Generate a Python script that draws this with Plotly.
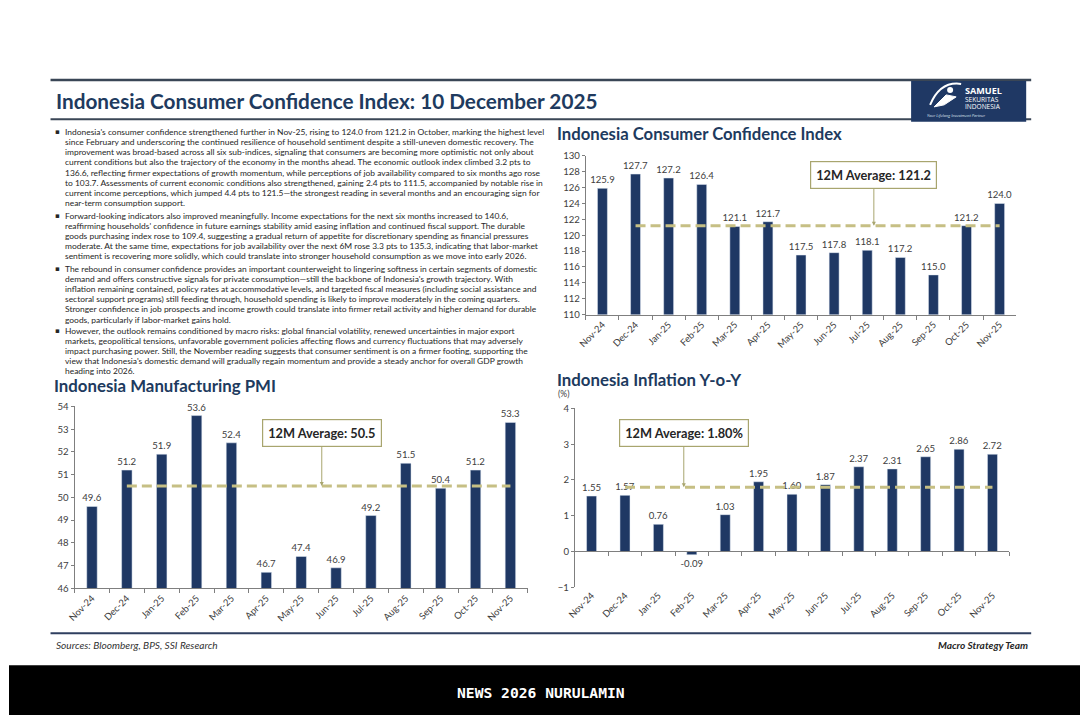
import plotly.graph_objects as go

W, H = 1080, 720

months = ["Nov-24", "Dec-24", "Jan-25", "Feb-25", "Mar-25", "Apr-25", "May-25",
          "Jun-25", "Jul-25", "Aug-25", "Sep-25", "Oct-25", "Nov-25"]
cci = [125.9, 127.7, 127.2, 126.4, 121.1, 121.7, 117.5, 117.8, 118.1, 117.2, 115.0, 121.2, 124.0]
pmi = [49.6, 51.2, 51.9, 53.6, 52.4, 46.7, 47.4, 46.9, 49.2, 51.5, 50.4, 51.2, 53.3]
infl = [1.55, 1.57, 0.76, -0.09, 1.03, 1.95, 1.60, 1.87, 2.37, 2.31, 2.65, 2.86, 2.72]
cci_avg = 121.2
pmi_avg = 50.5
infl_avg = 1.80
avg_months = months[1:]

NAVY = "#1F3864"
TITLE = "#203A5E"
AVG = "#C6BF84"
BOXLINE = "#A8A56E"
GRAY = "#7F7F7F"
LBL = "#404040"
FONT = "Lato"

# calibration of the capture (observed page -> picture mapping)
SX, BX = 0.991, 8.5
SY, BY = 0.986, 5.0
FS = 1 / 0.988


def px(x):
    return ((x - BX) / SX) / W


def py(y):
    return 1 - ((y - BY) / SY) / H


def f(s):
    return s * FS


fig = go.Figure()

charts = [
    ("x", "y", cci, [f"{v:.1f}" for v in cci], cci_avg, "x"),
    ("x2", "y2", pmi, [f"{v:.1f}" for v in pmi], pmi_avg, "x2"),
    ("x3", "y3", infl, [f"{v:.2f}" for v in infl], infl_avg, "x4"),
]
for xa, ya, vals, labels, avg, xavg in charts:
    fig.add_trace(go.Bar(
        x=months, y=vals, xaxis=xa, yaxis=ya, marker_color=NAVY, width=0.3,
        text=labels, textposition="outside", constraintext="none", cliponaxis=False,
        textfont=dict(family=FONT, size=f(9.5), color=LBL), hoverinfo="skip"))
    fig.add_trace(go.Scatter(
        x=avg_months, y=[avg] * len(avg_months), xaxis=xavg, yaxis=ya, mode="lines",
        line=dict(color=AVG, width=3, dash="10px,5px"), hoverinfo="skip"))

xcommon = dict(type="category", showline=True, linecolor=GRAY, linewidth=1,
               ticks="outside", tickson="boundaries", ticklen=4, tickcolor=GRAY,
               tickangle=-45, tickfont=dict(family=FONT, size=f(9.3), color=LBL),
               showgrid=False, zeroline=False, fixedrange=True)
ycommon = dict(showline=True, linecolor=GRAY, linewidth=1, ticks="outside",
               ticklen=3, tickcolor=GRAY, tickfont=dict(family=FONT, size=f(9.5), color=LBL),
               showgrid=False, fixedrange=True, zeroline=False)

# inflation zero line position (reference pixels)
inf_top, inf_bot = 408, 587
zero_px = inf_top + (4 - 0) / 5 * (inf_bot - inf_top)

fig.update_layout(
    xaxis=dict(xcommon, domain=[px(585), px(1015)], anchor="y"),
    yaxis=dict(ycommon, domain=[py(314), py(155)], range=[110, 130], dtick=2, anchor="x"),
    xaxis2=dict(xcommon, domain=[px(74), px(527)], anchor="y2"),
    yaxis2=dict(ycommon, domain=[py(588), py(406)], range=[46, 54], dtick=1, anchor="x2"),
    xaxis3=dict(xcommon, domain=[px(574), px(1008)], anchor="y3", showline=False, ticks=""),
    yaxis3=dict(ycommon, domain=[py(inf_bot), py(inf_top)], range=[-1, 4], dtick=1, anchor="x3"),
    xaxis4=dict(xcommon, matches="x3", overlaying="x3", anchor="free",
                position=py(zero_px), showticklabels=False, domain=[px(574), px(1008)]),
)

ann = []

# average boxes
for xr, yr, xpos, avg, txt, ay in [
    ("x", "y", 8.2, cci_avg, "12M Average: 121.2", -50),
    ("x2", "y2", 6.59, pmi_avg, "12M Average: 50.5", -52),
    ("x3", "y3", 2.76, infl_avg, "12M Average: 1.80%", -53),
]:
    ann.append(dict(xref=xr, yref=yr, x=xpos, y=avg, ax=0, ay=ay / SY,
                    text=f"<b>{txt}</b>", showarrow=True, arrowhead=2, arrowsize=0.8,
                    arrowwidth=1, arrowcolor=BOXLINE, bgcolor="#FFFFFF",
                    bordercolor=BOXLINE, borderwidth=1.2, borderpad=5,
                    font=dict(family=FONT, size=f(12.6), color="#262626")))

# header
ann.append(dict(xref="paper", yref="paper", x=px(53), y=py(100), xanchor="left",
                yanchor="middle", showarrow=False,
                text="<b>Indonesia Consumer Confidence Index: 10 December 2025</b>",
                font=dict(family=FONT, size=f(20.5), color=TITLE)))

# chart titles
for x0, y0, t, s in [(555, 133, "Indonesia Consumer Confidence Index", 16.5),
                     (52, 385, "Indonesia Manufacturing PMI", 16.6),
                     (555, 379, "Indonesia Inflation Y-o-Y", 16.6)]:
    ann.append(dict(xref="paper", yref="paper", x=px(x0), y=py(y0), xanchor="left",
                    yanchor="middle", showarrow=False, text=f"<b>{t}</b>", borderpad=0,
                    font=dict(family=FONT, size=f(s), color=TITLE)))
ann.append(dict(xref="paper", yref="paper", x=px(555), y=py(394), xanchor="left",
                yanchor="middle", showarrow=False, text="(%)",
                font=dict(family=FONT, size=f(8.5), color=LBL)))

# body text
paras = [
    (131, [
        "Indonesia's consumer confidence strengthened further in Nov-25, rising to 124.0 from 121.2 in October, marking the highest level",
        "since February and underscoring the continued resilience of household sentiment despite a still-uneven domestic recovery. The",
        "improvement was broad-based across all six sub-indices, signaling that consumers are becoming more optimistic not only about",
        "current conditions but also the trajectory of the economy in the months ahead. The economic outlook index climbed 3.2 pts to",
        "136.6, reflecting firmer expectations of growth momentum, while perceptions of job availability compared to six months ago rose",
        "to 103.7. Assessments of current economic conditions also strengthened, gaining 2.4 pts to 111.5, accompanied by notable rise in",
        "current income perceptions, which jumped 4.4 pts to 121.5\u2014the strongest reading in several months and an encouraging sign for",
        "near-term consumption support.",
    ]),
    (215, [
        "Forward-looking indicators also improved meaningfully. Income expectations for the next six months increased to 140.6,",
        "reaffirming households' confidence in future earnings stability amid easing inflation and continued fiscal support. The durable",
        "goods purchasing index rose to 109.4, suggesting a gradual return of appetite for discretionary spending as financial pressures",
        "moderate. At the same time, expectations for job availability over the next 6M rose 3.3 pts to 135.3, indicating that labor-market",
        "sentiment is recovering more solidly, which could translate into stronger household consumption as we move into early 2026.",
    ]),
    (268, [
        "The rebound in consumer confidence provides an important counterweight to lingering softness in certain segments of domestic",
        "demand and offers constructive signals for private consumption\u2014still the backbone of Indonesia's growth trajectory. With",
        "inflation remaining contained, policy rates at accommodative levels, and targeted fiscal measures (including social assistance and",
        "sectoral support programs) still feeding through, household spending is likely to improve moderately in the coming quarters.",
        "Stronger confidence in job prospects and income growth could translate into firmer retail activity and higher demand for durable",
        "goods, particularly if labor-market gains hold.",
    ]),
    (330, [
        "However, the outlook remains conditioned by macro risks: global financial volatility, renewed uncertainties in major export",
        "markets, geopolitical tensions, unfavorable government policies affecting flows and currency fluctuations that may adversely",
        "impact purchasing power. Still, the November reading suggests that consumer sentiment is on a firmer footing, supporting the",
        "view that Indonesia's domestic demand will gradually regain momentum and provide a steady anchor for overall GDP growth",
        "heading into 2026.",
    ]),
]
for y0, lines in paras:
    ann.append(dict(xref="paper", yref="paper", x=px(53), y=py(y0), xanchor="left",
                    yanchor="middle", showarrow=False, text="\u25aa", borderpad=0,
                    font=dict(family="DejaVu Sans", size=f(7), color="#262626")))
    for i, line in enumerate(lines):
        ann.append(dict(xref="paper", yref="paper", x=px(63), y=py(y0 + i * 10.2),
                        xanchor="left", yanchor="middle", showarrow=False, text=line,
                        borderpad=0, font=dict(family=FONT, size=f(8.35), color="#262626")))

# footer
ann.append(dict(xref="paper", yref="paper", x=px(53), y=py(645), xanchor="left",
                yanchor="middle", showarrow=False,
                text="<i>Sources: Bloomberg, BPS, SSI Research</i>",
                font=dict(family=FONT, size=f(10), color="#333333")))
ann.append(dict(xref="paper", yref="paper", x=px(1029), y=py(645), xanchor="right",
                yanchor="middle", showarrow=False, text="<b><i>Macro Strategy Team</i></b>",
                font=dict(family=FONT, size=f(10), color="#262626")))

# logo texts
ann.append(dict(xref="paper", yref="paper", x=px(962), y=py(90), xanchor="left",
                yanchor="middle", showarrow=False, text="<b>SAMUEL</b>",
                font=dict(family="Open Sans", size=f(9), color="#FFFFFF")))
ann.append(dict(xref="paper", yref="paper", x=px(962), y=py(99), xanchor="left",
                yanchor="middle", showarrow=False, text="SEKURITAS",
                font=dict(family="Open Sans", size=f(6.5), color="#FFFFFF")))
ann.append(dict(xref="paper", yref="paper", x=px(962), y=py(106), xanchor="left",
                yanchor="middle", showarrow=False, text="INDONESIA",
                font=dict(family="Open Sans", size=f(6.5), color="#FFFFFF")))
ann.append(dict(xref="paper", yref="paper", x=px(924), y=py(115), xanchor="left",
                yanchor="middle", showarrow=False, text="<i>Your Lifelong Investment Partner</i>",
                font=dict(family="Open Sans", size=f(4), color="#DDE3EE")))

# banner text
ann.append(dict(xref="paper", yref="paper", x=px(540), y=py(692), xanchor="center",
                yanchor="middle", showarrow=False, text="<b>NEWS 2026 NURULAMIN</b>",
                font=dict(family="DejaVu Sans Mono", size=f(14.5), color="#FFFFFF")))


def rect(x0, x1, y0, y1, color):
    return dict(type="rect", xref="paper", yref="paper", x0=px(x0), x1=px(x1),
                y0=py(y1), y1=py(y0), fillcolor=color, line=dict(width=0))


def hline(x0, x1, y, color, w):
    return dict(type="line", xref="paper", yref="paper", x0=px(x0), x1=px(x1),
                y0=py(y), y1=py(y), line=dict(color=color, width=w))


shapes = [
    hline(50, 1030, 79, "#3A4656", 2.5),
    hline(50, 1030, 118.5, "#3A4656", 2),
    rect(910, 1025, 80, 121, "#1F3864"),
    dict(type="path", xref="paper", yref="paper",
         path=f"M {px(929)} {py(104)} Q {px(939)} {py(80)} {px(960)} {py(83)}",
         line=dict(color="#FFFFFF", width=2)),
    dict(type="path", xref="paper", yref="paper",
         path=f"M {px(933)} {py(106)} L {px(945)} {py(94)} L {px(955)} {py(96)} L {px(943)} {py(104)} Z",
         fillcolor="#FFFFFF", line=dict(color="#FFFFFF", width=1)),
    dict(type="circle", xref="paper", yref="paper", x0=px(946), x1=px(952),
         y0=py(92), y1=py(86), fillcolor="#FFFFFF", line=dict(width=0)),
    hline(50, 1030, 633, "#2F3F5F", 2),
    dict(type="rect", xref="paper", yref="paper", x0=0, x1=1, y0=0, y1=py(665),
         fillcolor="#000000", line=dict(width=0)),
]

fig.update_layout(
    width=W, height=H, margin=dict(l=0, r=0, t=0, b=0),
    paper_bgcolor="#FFFFFF", plot_bgcolor="rgba(0,0,0,0)",
    showlegend=False, annotations=ann, shapes=shapes,
    font=dict(family=FONT), hovermode=False,
)

fig.write_html("out.html", config={"displayModeBar": False},
               post_script="document.body.style.margin='0';"
                           "document.body.style.overflow='hidden';"
                           "document.documentElement.style.overflow='hidden';"
                           "document.body.style.background='#000 linear-gradient(#fff,#fff) no-repeat left top / 100% 674px';")
